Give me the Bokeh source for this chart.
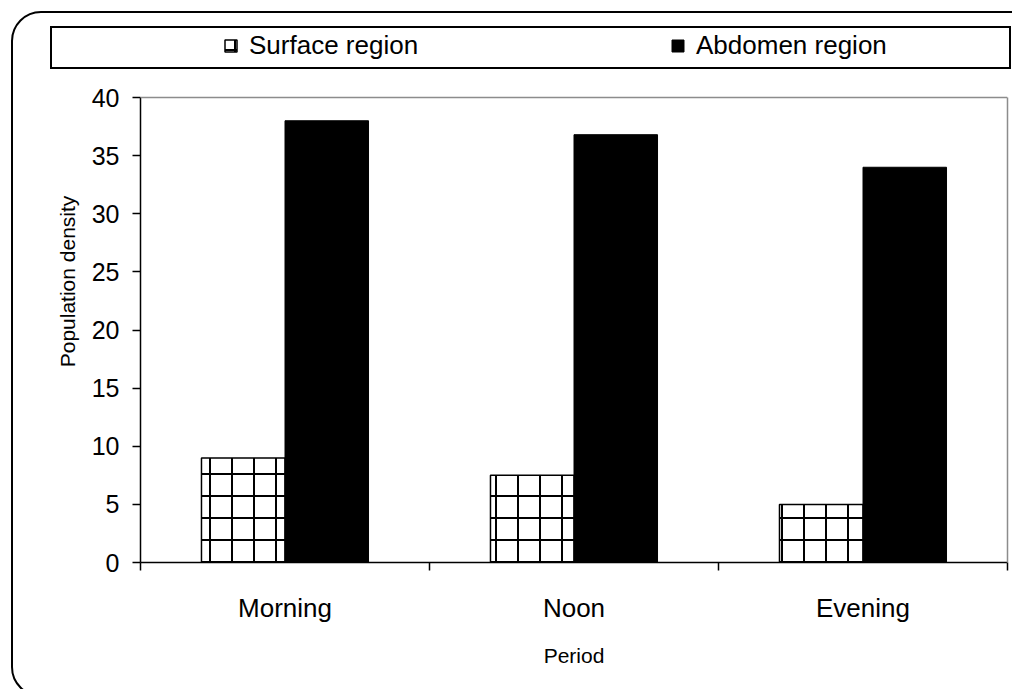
import numpy as np
from bokeh.plotting import figure
from bokeh.models import (Range1d, FixedTicker, Legend, LegendItem, InlineStyleSheet,
                          LinearAxis, Span, Title)
from bokeh.embed import file_html
from bokeh.resources import INLINE

# Data
periods = ["Morning", "Noon", "Evening"]
surface = [9.0, 7.5, 5.0]
abdomen = [38.0, 36.8, 34.0]
series_names = ["Surface region", "Abdomen region"]
y_ticks = [0, 5, 10, 15, 20, 25, 30, 35, 40]
Y_MAX = 40

FONT = "Liberation Sans"
BAR_W = 0.289
PX_PER_UNIT = 465 / Y_MAX          # plot body is 465 px tall
HEADROOM = 97 / PX_PER_UNIT        # space above the plot body for the legend strip

# rounded frame around the whole chart area and the box around the legend strip
frame_css = InlineStyleSheet(css="""
:host { overflow: hidden; position: relative; }
:host::after {
  content: ""; position: absolute; left: 11px; top: 11px;
  width: 1040px; height: 686px; box-sizing: border-box;
  border: 2.5px solid black; border-radius: 30px; pointer-events: none;
}
:host::before {
  content: ""; position: absolute; left: 50px; top: 26px;
  width: 961px; height: 43px; box-sizing: border-box;
  border: 2px solid black; pointer-events: none; z-index: 5;
}
""")

p = figure(
    width=1012, height=689,
    min_border_left=140, min_border_right=5,
    min_border_top=0, min_border_bottom=127,
    x_range=Range1d(0, len(periods)), y_range=Range1d(0, Y_MAX + HEADROOM),
    output_backend="svg", toolbar_location=None,
    stylesheets=[frame_css],
)
p.grid.visible = False
p.outline_line_color = None
p.background_fill_color = "white"
p.border_fill_color = "white"

centers = np.arange(len(periods)) + 0.5

r_surface = p.vbar(
    x=centers - BAR_W / 2, top=surface, width=BAR_W, bottom=0,
    fill_color="white", line_color="black", line_width=1.5,
    hatch_pattern="cross", hatch_color="black", hatch_weight=2, hatch_scale=22,
)
r_abdomen = p.vbar(
    x=centers + BAR_W / 2, top=abdomen, width=BAR_W, bottom=0,
    fill_color="black", line_color="black", line_width=1,
)

# grey border along the top and right of the plot body
p.add_layout(Span(location=Y_MAX, dimension="width", line_color="#8c8c8c", line_width=1.5))
right_axis = LinearAxis(bounds=(0, Y_MAX), ticker=FixedTicker(ticks=[]),
                        axis_line_color="#8c8c8c", axis_line_width=1.5,
                        major_tick_line_color=None, minor_tick_line_color=None,
                        major_label_text_font_size="0px")
p.add_layout(right_axis, "right")

# x axis: labels at category centres, ticks at category boundaries
xa = p.xaxis[0]
xa.ticker = FixedTicker(ticks=list(centers), minor_ticks=list(range(len(periods) + 1)))
xa.major_label_overrides = {float(c): name for c, name in zip(centers, periods)}
xa.major_tick_in = 0
xa.major_tick_out = 0
xa.minor_tick_in = 0
xa.minor_tick_out = 8
xa.minor_tick_line_color = "black"
xa.minor_tick_line_width = 1.5
xa.axis_line_color = "black"
xa.axis_line_width = 1.5
xa.major_label_text_font = FONT
xa.major_label_text_font_size = "26px"
xa.major_label_text_color = "black"
xa.major_label_standoff = 22
xa.axis_label = "Period"
xa.axis_label_text_font = FONT
xa.axis_label_text_font_size = "21px"
xa.axis_label_text_font_style = "normal"
xa.axis_label_text_color = "black"
xa.axis_label_standoff = 18

ya = p.yaxis[0]
ya.ticker = FixedTicker(ticks=y_ticks)
ya.bounds = (0, Y_MAX)
ya.minor_tick_line_color = None
ya.major_tick_in = 0
ya.major_tick_out = 8
ya.major_tick_line_color = "black"
ya.major_tick_line_width = 1.5
ya.axis_line_color = "black"
ya.axis_line_width = 1.5
ya.major_label_text_font = FONT
ya.major_label_text_font_size = "25px"
ya.major_label_text_color = "black"
ya.major_label_standoff = 13

# y axis title, centred on the 0-40 span rather than the whole plot height
p.add_layout(Title(text="Population density", align="center", offset=-34, standoff=19,
                   text_font=FONT, text_font_size="21px", text_font_style="normal",
                   text_color="black"), "left")

# Legend strip across the top
legend = Legend(
    items=[LegendItem(label=series_names[0], renderers=[r_surface]),
           LegendItem(label=series_names[1], renderers=[r_abdomen])],
    orientation="horizontal", location=(83, 501),
    padding=0, margin=0, spacing=190,
    glyph_width=15, glyph_height=15, label_standoff=11, label_width=231,
    label_text_font=FONT, label_text_font_size="26px", label_text_color="black",
    border_line_alpha=0, background_fill_alpha=0,
)
p.add_layout(legend)

open("out.html", "w").write(file_html(p, INLINE))
